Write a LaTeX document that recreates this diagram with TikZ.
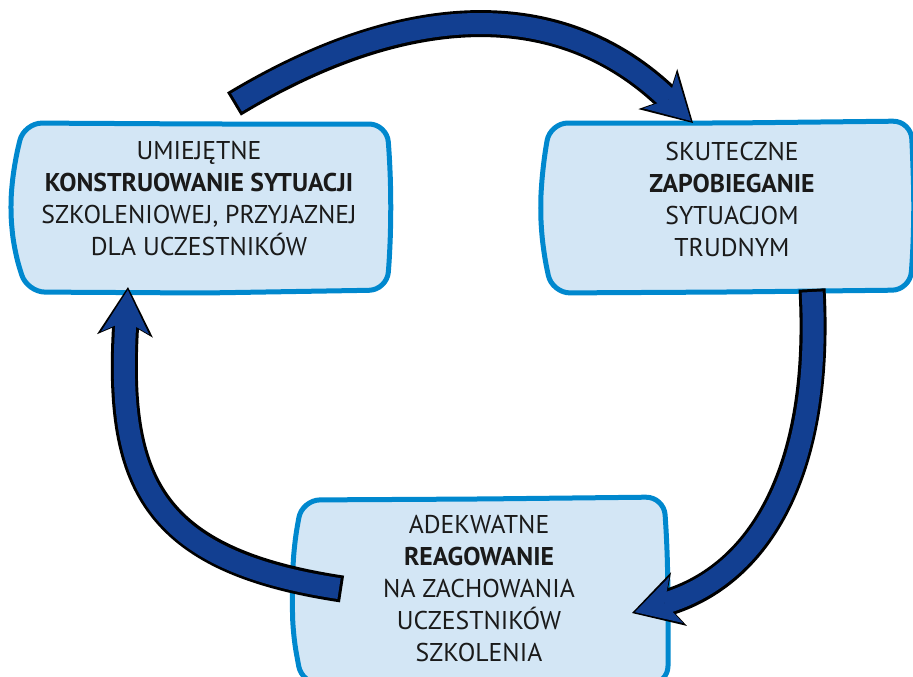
\documentclass[tikz,border=0pt]{standalone}
\usepackage{fontspec}
\setmainfont{PT Sans}
\usetikzlibrary{arrows.meta}
\definecolor{boxline}{HTML}{0088CE}
\definecolor{boxfill}{HTML}{D3E6F5}
\definecolor{arrowblue}{HTML}{123F91}
\definecolor{textdark}{HTML}{1A1A1A}
\tikzset{
  % Specifications for style of boxes and texts:
  blob/.style = {
    draw=boxline,
    fill=boxfill,
    line width=5pt,
    rounded corners=18pt
  },
  boxtext/.style = {
    align=center,
    text=textdark,
    inner sep=0pt,
    font=\fontsize{25.7}{32}\selectfont
  },
  % Specifications for style of the cycle arrows:
  cyclearrow/.style = {
    draw=arrowblue,
    line width=21pt,
    shorten <=3pt,
    shorten >=3pt,
    -{Stealth[length=43pt, width=48pt, inset=12pt, line width=0pt]},
    preaction={draw=black, line width=27pt, shorten <=0pt, shorten >=0pt,
      -{Stealth[length=49pt, width=56pt, inset=14pt, line width=0pt]}}
  },
}

\begin{document}
\begin{tikzpicture}[x=1pt, y=-1pt]
    \useasboundingbox (0,0) rectangle (913,677);
    \clip (0,0) rectangle (913,677);
    % Specification of boxes (hand drawn outlines)
    \draw[blob] (205,124) -- (387,124) -- (390,165) -- (391,207) -- (390,250)
                -- (387,290) -- (205,293) -- (27,292) -- (14,250) -- (10,207)
                -- (14,165) -- (24,123) -- cycle;
    \draw[blob] (730,123) -- (911,121) -- (913,165) -- (914,205) -- (913,250)
                -- (910,290) -- (730,292) -- (552,293) -- (543,250) -- (540,208)
                -- (543,165) -- (550,123) -- cycle;
    \draw[blob] (480,499) -- (664,497) -- (667,545) -- (668,590) -- (668,684)
                -- (480,684) -- (302,684) -- (293,635) -- (292,590) -- (294,545)
                -- (302,500) -- cycle;
    % Specification of texts
    \node[boxtext] (konstruowanie) at (199,199)
      {UMIEJĘTNE\\\textbf{KONSTRUOWANIE SYTUACJI}\\SZKOLENIOWEJ, PRZYJAZNEJ\\DLA UCZESTNIKÓW};
    \node[boxtext] (zapobieganie) at (732,199)
      {SKUTECZNE\\\textbf{ZAPOBIEGANIE}\\SYTUACJOM\\TRUDNYM};
    \node[boxtext] (reagowanie) at (479,589)
      {ADEKWATNE\\\textbf{REAGOWANIE}\\NA ZACHOWANIA\\UCZESTNIKÓW\\SZKOLENIA};
    % Specification of arrow ends
    \coordinate (topstart)   at (234,104);
    \coordinate (topend)     at (693,123);
    \coordinate (rightstart) at (812,289);
    \coordinate (rightend)   at (632,613);
    \coordinate (leftstart)  at (342,589);
    \coordinate (leftend)    at (128,287);
    % Arrows of the cycle
    \draw[cyclearrow] (topstart) .. controls (405,1) and (560,-5.5) .. (topend);
    \draw[cyclearrow] (rightstart) .. controls (822,470) and (760,575) .. (rightend);
    \draw[cyclearrow] (leftstart) .. controls (150,560) and (116,480) .. (leftend);
  \end{tikzpicture}
\end{document}
